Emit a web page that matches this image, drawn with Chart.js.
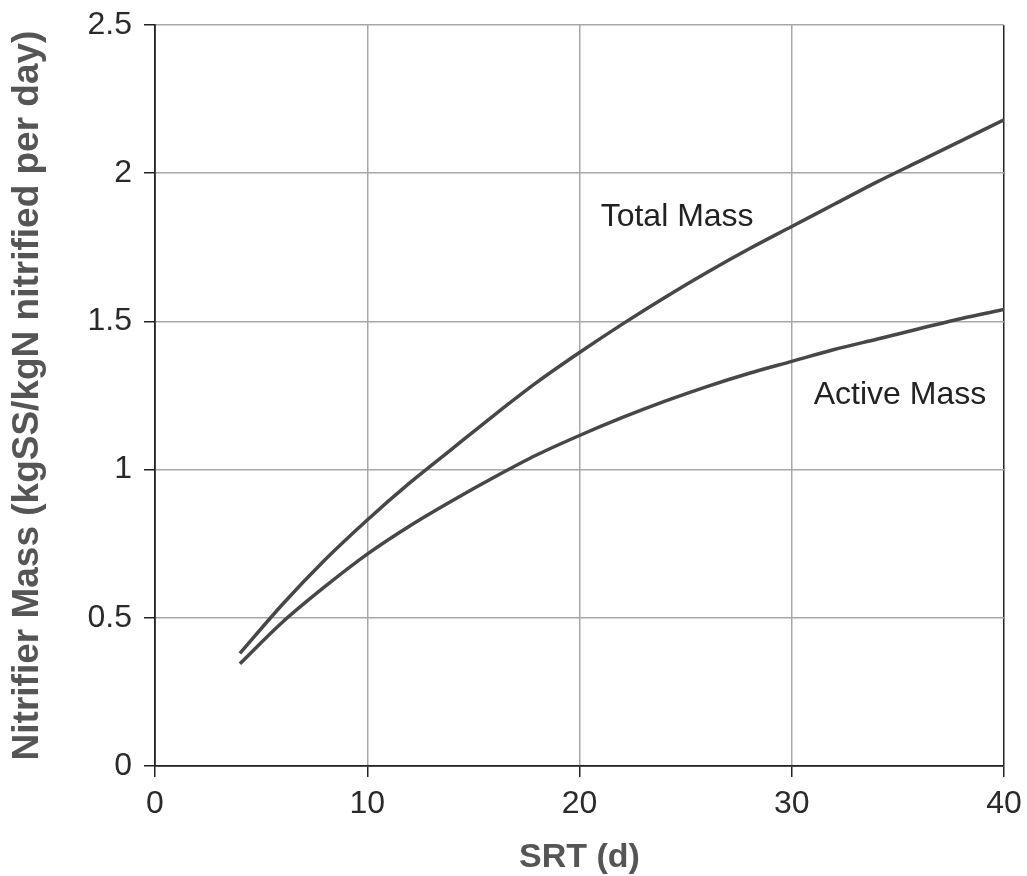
<!DOCTYPE html>
<html>
<head>
<meta charset="utf-8">
<script src="https://cdn.jsdelivr.net/npm/chart.js@4"></script>
<style>
  html, body { margin: 0; padding: 0; background: #fff; }
  #wrap { width: 1027px; height: 876px; }
</style>
</head>
<body>
<div id="wrap"><canvas id="chart" width="1027" height="876"></canvas></div>
<script>
// SRT values (d)
const srt = [4, 6, 8, 10, 12, 14, 16, 18, 20, 22, 24, 26, 28, 30, 32, 34, 36, 38, 40];
// kgSS/kgN nitrified per day
const totalMass = [0.38, 0.545, 0.695, 0.83, 0.955, 1.07, 1.185, 1.295, 1.395, 1.49, 1.58, 1.665, 1.745, 1.82, 1.895, 1.97, 2.04, 2.11, 2.18];
const activeMass = [0.345, 0.485, 0.605, 0.715, 0.81, 0.895, 0.975, 1.05, 1.115, 1.175, 1.23, 1.28, 1.325, 1.365, 1.405, 1.44, 1.475, 1.51, 1.54];

const xTicks = [0, 10, 20, 30, 40];
const yTicks = [0, 0.5, 1, 1.5, 2, 2.5];

// curve labels: [text, x, y]
const curveLabels = [
    ["Total Mass", 24.6, 1.85],
    ["Active Mass", 35.1, 1.25]
];

const FONT = '"Liberation Sans", Arial, sans-serif';

const toPoints = (xs, ys) => xs.map((x, i) => ({ x: x, y: ys[i] }));

// plugin for the text next to the curves
const curveLabelPlugin = {
    id: 'curveLabels',
    afterDatasetsDraw(chart) {
        const ctx = chart.ctx;
        const xs = chart.scales.x, ys = chart.scales.y;
        ctx.save();
        ctx.font = '32px ' + FONT;
        ctx.fillStyle = '#222';
        ctx.textAlign = 'center';
        ctx.textBaseline = 'middle';
        curveLabels.forEach(l => {
            ctx.fillText(l[0], xs.getPixelForValue(l[1]), ys.getPixelForValue(l[2]));
        });
        ctx.restore();
    }
};

const lineStyle = {
    borderColor: '#474747',
    borderWidth: 3.5,
    pointRadius: 0,
    fill: false,
    cubicInterpolationMode: 'monotone'
};

new Chart(document.getElementById('chart').getContext('2d'), {
    type: 'line',
    data: {
        datasets: [
            Object.assign({ label: 'Total Mass', data: toPoints(srt, totalMass) }, lineStyle),
            Object.assign({ label: 'Active Mass', data: toPoints(srt, activeMass) }, lineStyle)
        ]
    },
    options: {
        responsive: false,
        animation: false,
        devicePixelRatio: 1,
        layout: { padding: { top: 25, right: 23, left: 0, bottom: 0 } },
        plugins: {
            legend: { display: false },
            tooltip: { enabled: false }
        },
        scales: {
            x: {
                type: 'linear',
                min: 0,
                max: 40,
                afterFit(scale) {
                    scale.height = 110;
                    scale.paddingLeft = 0;
                    scale.paddingRight = 0;
                },
                afterBuildTicks(scale) { scale.ticks = xTicks.map(v => ({ value: v })); },
                grid: {
                    color: ctx => (ctx.tick && ctx.tick.value === 40) ? '#222' : '#a8a8a8',
                    lineWidth: 1.5,
                    tickLength: 11,
                    tickColor: '#222'
                },
                border: { color: '#222', width: 1.8 },
                ticks: {
                    color: '#2a2a2a',
                    padding: 8,
                    maxRotation: 0,
                    callback: v => String(v),
                    font: { family: FONT, size: 32 }
                },
                title: {
                    display: true,
                    text: 'SRT (d)',
                    color: '#555',
                    padding: { top: 0, bottom: -2 },
                    font: { family: FONT, size: 34, weight: 'bold' }
                }
            },
            y: {
                type: 'linear',
                min: 0,
                max: 2.5,
                afterFit(scale) {
                    scale.width = 155;
                    scale.paddingTop = 0;
                    scale.paddingBottom = 0;
                },
                afterBuildTicks(scale) { scale.ticks = yTicks.map(v => ({ value: v })); },
                grid: {
                    color: '#a8a8a8',
                    lineWidth: 1.5,
                    tickLength: 11,
                    tickColor: '#222'
                },
                border: { color: '#222', width: 1.8 },
                ticks: {
                    color: '#2a2a2a',
                    padding: 12,
                    callback: v => String(v),
                    font: { family: FONT, size: 32 }
                },
                title: {
                    display: true,
                    text: 'Nitrifier Mass (kgSS/kgN nitrified per day)',
                    color: '#555',
                    padding: { top: 6 },
                    font: { family: FONT, size: 37, weight: 'bold' }
                }
            }
        }
    },
    plugins: [curveLabelPlugin]
});
</script>
</body>
</html>
